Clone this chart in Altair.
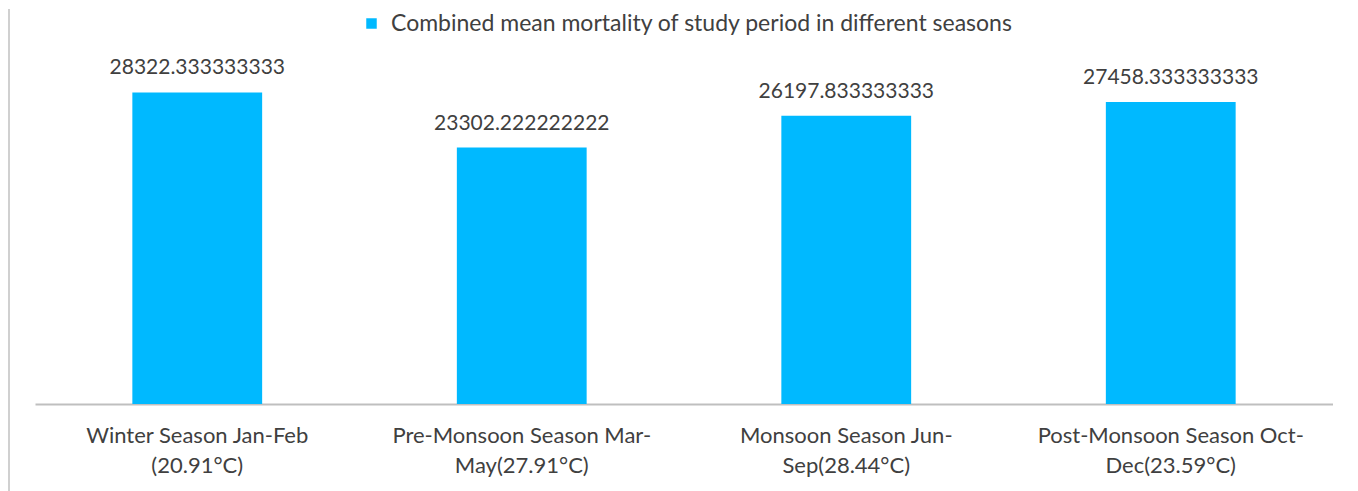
import altair as alt
import pandas as pd

categories = [
    "Winter Season Jan-Feb\n(20.91°C)",
    "Pre-Monsoon Season Mar-\nMay(27.91°C)",
    "Monsoon Season Jun-\nSep(28.44°C)",
    "Post-Monsoon Season Oct-\nDec(23.59°C)",
]
values = [28322.333333333, 23302.222222222, 26197.833333333, 27458.333333333]
value_labels = ["28322.333333333", "23302.222222222", "26197.833333333", "27458.333333333"]
series_name = "Combined mean mortality of study period in different seasons"

df = pd.DataFrame({
    "season": categories,
    "value": values,
    "label": value_labels,
    "series": [series_name] * len(categories),
})

FONT = "Lato"
TXT = "#404040"

x_enc = alt.X(
    "season:N",
    sort=categories,
    title=None,
    scale=alt.Scale(paddingInner=0.6, paddingOuter=0.3),
    axis=alt.Axis(
        labelExpr="split(datum.value, '\\n')",
        labelAngle=0,
        labelFont=FONT,
        labelFontSize=22,
        labelColor=TXT,
        labelLineHeight=30,
        labelPadding=21,
        ticks=False,
        domainColor="#bfbfbf",
        domainWidth=2,
        grid=False,
        labelLimit=400,
    ),
)
y_enc = alt.Y(
    "value:Q",
    title=None,
    scale=alt.Scale(domain=[0, 35900], nice=False),
    axis=None,
)

bars = alt.Chart(df).mark_bar().encode(
    x=x_enc,
    y=y_enc,
    color=alt.Color(
        "series:N",
        scale=alt.Scale(domain=[series_name], range=["#00B9FF"]),
        legend=alt.Legend(
            title=None,
            orient="none",
            legendX=325,
            legendY=3,
            symbolType="square",
            symbolSize=110,
            symbolStrokeWidth=0,
            labelFont=FONT,
            labelFontSize=23,
            labelColor=TXT,
            labelOffset=8,
            labelLimit=900,
            padding=0,
        ),
    ),
)

texts = alt.Chart(df).mark_text(
    font=FONT, fontSize=21, color=TXT, baseline="alphabetic", dy=-18
).encode(
    x=alt.X("season:N", sort=categories),
    y=alt.Y("value:Q"),
    text="label:N",
)

border = alt.Chart(df).mark_rule(color="#d0d0d0", strokeWidth=2).encode(
    x=alt.value(-26),
    y=alt.value(0),
    y2=alt.value(483),
)

chart = alt.layer(border, bars, texts).properties(
    width=1298,
    height=395,
    padding=0,
    background="white",
).configure_view(stroke=None, strokeWidth=0)

chart.save("out.html", embed_options={"renderer": "svg", "actions": False})
